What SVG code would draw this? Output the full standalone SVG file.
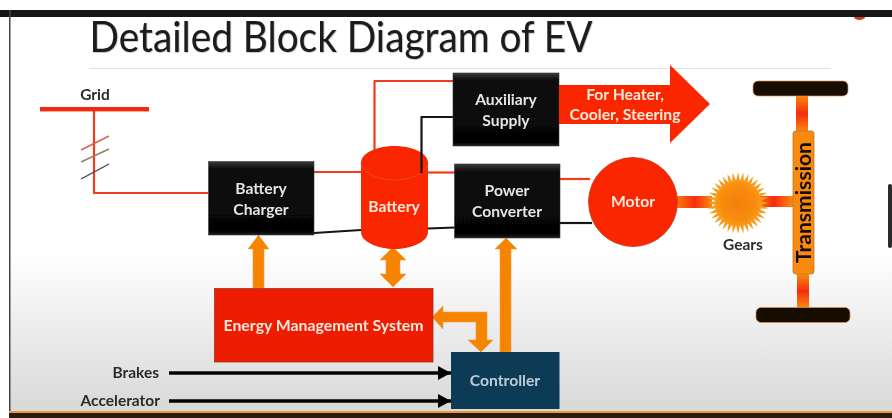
<svg xmlns="http://www.w3.org/2000/svg" xmlns:xlink="http://www.w3.org/1999/xlink" width="892" height="418" viewBox="0 0 892 418">
<style>
text{font-family:Lato,"Open Sans","Liberation Sans",sans-serif;font-weight:700;text-anchor:middle}
.lt{fill:#e6e6e6;font-size:15.700px}
.lw{fill:#ffe9dc;font-size:15.700px}
.dk{fill:#2c2c2c;font-size:15.500px}
.end{text-anchor:end}
.red{fill:none;stroke:#f23a1c;stroke-width:2.2;stroke-linejoin:round}
.blk{fill:none;stroke:#141414;stroke-width:2.2;stroke-linejoin:round}
.io{fill:none;stroke:#050505;stroke-width:3.600;marker-end:url(#ah)}
.or{fill:#f78406;stroke:#eda040;stroke-width:.6}
.box{fill:url(#bev);stroke:#3a3a3a;stroke-width:.6}
.shaft{stroke:none}
</style>
<defs>
<linearGradient id="bg" x1="0" y1="0" x2="0" y2="1"><stop offset="0" stop-color="#fff"/><stop offset=".6" stop-color="#fff"/><stop offset="1" stop-color="#d8d8d8"/></linearGradient>
<linearGradient id="bev" x1="0" y1="0" x2="0" y2="1"><stop offset="0" stop-color="#3c3c3c"/><stop offset=".1" stop-color="#0c0c0c"/><stop offset=".95" stop-color="#050505"/><stop offset="1" stop-color="#222"/></linearGradient>
<linearGradient id="sh" x1="0" y1="0" x2="1" y2="0"><stop offset="0" stop-color="#fb7a10"/><stop offset=".5" stop-color="#f52c08"/><stop offset="1" stop-color="#fb8a10"/></linearGradient>
<linearGradient id="sv" x1="0" y1="0" x2="0" y2="1"><stop offset="0" stop-color="#fb8a10"/><stop offset=".5" stop-color="#f52c08"/><stop offset="1" stop-color="#fb8a10"/></linearGradient>
<radialGradient id="gr"><stop offset="0" stop-color="#f48006"/><stop offset=".75" stop-color="#f88c0c"/><stop offset="1" stop-color="#fa9a1c"/></radialGradient>
<marker id="ah" markerUnits="userSpaceOnUse" markerWidth="14" markerHeight="14" refX="13" refY="7" orient="auto"><path d="M0 0L13 7L0 14Z" fill="#050505"/></marker>
<polygon id="sp" points="-31,0 -22,-2 22,-2 31,0 22,2 -22,2" fill="#fa9a1c"/>
<filter id="soft" x="-2%" y="-2%" width="104%" height="104%"><feGaussianBlur stdDeviation="0.45"/></filter>
<filter id="tsh" x="-2%" y="-10%" width="104%" height="120%"><feDropShadow dx="0.6" dy="0.6" stdDeviation="0.6" flood-color="#000" flood-opacity=".35"/></filter>
</defs>
<g filter="url(#soft)">
<g id="background">
<rect width="892" height="418" fill="#fff"/>
<rect x="9" y="10" width="883" height="403" fill="url(#bg)"/>
<rect x="0" y="10" width="892" height="7" fill="#161616"/>
<rect x="9" y="10" width="1.5" height="403" fill="#444"/>
<rect x="9" y="411" width="883" height="2.5" fill="#e99a38"/>
<rect x="9" y="413" width="883" height="5" fill="#2a1c0c"/>
<rect x="888" y="184" width="4" height="64" rx="2" fill="#2a2a2a"/>
<path d="M854 17h11a5.500 3 0 0 1-11 0Z" fill="#c8401c"/>
<path d="M89 68.500H831" stroke="#e2e2e2" stroke-width="1"/>
</g>
<text id="title" x="341" y="52" style="font-size:42px;font-weight:400;fill:#1a1a1a" textLength="503" lengthAdjust="spacingAndGlyphs" filter="url(#tsh)">Detailed Block Diagram of EV</text>
<g id="connectors">
<path class="red" d="M94 109V193H208"/>
<path d="M81 150L109 136" stroke="#d8604a" stroke-width="1.400"/>
<path d="M81 162L109 149" stroke="#8c8468" stroke-width="1.400"/>
<path d="M81 179L109 164" stroke="#3c4658" stroke-width="1.400"/>
<path class="red" d="M314 172H361"/>
<path class="red" d="M428 172.500H455"/>
<path class="red" d="M374.500 150V81H453"/>
<path class="red" d="M560 179H590"/>
<path class="blk" d="M314 233L361 230"/>
<path class="blk" d="M428 228.500L455 227.500"/>
<path class="blk" d="M560 223H592"/>
<path class="io" d="M169 373H451"/>
<path class="io" d="M169 401H451"/>
<path class="or" d="M253 288V249H248L258.500 235L269 249H264V288Z"/>
<path class="or" d="M393 247L406 260H400V274H406L393 287L380 274H386V260H380Z"/>
<path class="or" d="M500 352V249H495L506 238L517 249H511V352Z"/>
<path class="or" d="M432 317L443 306V312H487V340H493L481 352L468 340H476V322H443V329Z"/>
<rect class="shaft" x="677" y="196" width="35" height="12" fill="url(#sh)"/>
<rect class="shaft" x="755" y="196" width="38" height="11" fill="url(#sh)"/>
<rect class="shaft" x="796" y="95" width="12" height="37" fill="url(#sv)"/>
<rect class="shaft" x="797" y="274" width="12" height="34" fill="url(#sv)"/>
</g>
<g id="grid"><rect x="40" y="107" width="109" height="4.400" fill="#f52a08"/><text class="dk" x="95" y="100">Grid</text></g>
<g id="battery-charger"><rect class="box" x="208.500" y="161.500" width="105.500" height="73.500"/><text class="lt" x="261" y="194">Battery</text><text class="lt" x="261" y="215">Charger</text></g>
<g id="battery">
<path d="M361 163C361 152 379 146 394.500 146S428 152 428 163V232C428 242 411 249 394.500 249S361 242 361 232Z" fill="#f92800"/>
<path d="M361 163C363 174 379 180 394.500 180S426 174 428 163" fill="none" stroke="#e8481c" stroke-width="1"/>
<text class="lw" x="394" y="212">Battery</text></g>
<path class="blk" id="aux-link" d="M421.500 173V117H453"/>
<g id="auxiliary-supply"><rect class="box" x="453" y="73" width="106" height="73"/><text class="lt" x="506" y="105">Auxiliary</text><text class="lt" x="506" y="126">Supply</text></g>
<g id="power-converter"><rect class="box" x="454.500" y="164" width="105.500" height="74"/><text class="lt" x="507" y="196">Power</text><text class="lt" x="507" y="217">Converter</text></g>
<g id="load-arrow"><path d="M559 85H670V65L710 104L670 143V124H559Z" fill="#f92800"/><text class="lw" x="625" y="100">For Heater,</text><text class="lw" x="625" y="120">Cooler, Steering</text></g>
<g id="motor"><circle cx="633" cy="202" r="44.500" fill="#f92800" stroke="#c8361c" stroke-width=".8"/><text class="lw" x="633" y="207">Motor</text></g>
<g id="gears">
<use xlink:href="#sp" href="#sp" transform="translate(738 203)"/>
<use xlink:href="#sp" href="#sp" transform="translate(738 203) rotate(10)"/>
<use xlink:href="#sp" href="#sp" transform="translate(738 203) rotate(20)"/>
<use xlink:href="#sp" href="#sp" transform="translate(738 203) rotate(30)"/>
<use xlink:href="#sp" href="#sp" transform="translate(738 203) rotate(40)"/>
<use xlink:href="#sp" href="#sp" transform="translate(738 203) rotate(50)"/>
<use xlink:href="#sp" href="#sp" transform="translate(738 203) rotate(60)"/>
<use xlink:href="#sp" href="#sp" transform="translate(738 203) rotate(70)"/>
<use xlink:href="#sp" href="#sp" transform="translate(738 203) rotate(80)"/>
<use xlink:href="#sp" href="#sp" transform="translate(738 203) rotate(90)"/>
<use xlink:href="#sp" href="#sp" transform="translate(738 203) rotate(100)"/>
<use xlink:href="#sp" href="#sp" transform="translate(738 203) rotate(110)"/>
<use xlink:href="#sp" href="#sp" transform="translate(738 203) rotate(120)"/>
<use xlink:href="#sp" href="#sp" transform="translate(738 203) rotate(130)"/>
<use xlink:href="#sp" href="#sp" transform="translate(738 203) rotate(140)"/>
<use xlink:href="#sp" href="#sp" transform="translate(738 203) rotate(150)"/>
<use xlink:href="#sp" href="#sp" transform="translate(738 203) rotate(160)"/>
<use xlink:href="#sp" href="#sp" transform="translate(738 203) rotate(170)"/>
<circle cx="738" cy="203" r="23" fill="url(#gr)"/>
<text class="dk" x="743" y="250">Gears</text></g>
<g id="transmission"><rect x="793" y="131" width="21" height="143" rx="2.500" fill="#f98a10" stroke="#b87a30" stroke-width=".8"/><text transform="translate(811 202.500) rotate(-90)" style="font-size:21px;fill:#181008" textLength="121" lengthAdjust="spacingAndGlyphs">Transmission</text></g>
<g id="wheel-top"><rect x="753" y="81" width="95" height="15" rx="5" fill="#120804" stroke="#e89040" stroke-width=".7"/></g>
<g id="wheel-bottom"><rect x="756" y="307.500" width="94" height="15" rx="5" fill="#120804" stroke="#e89040" stroke-width=".7"/></g>
<g id="energy-management-system"><rect x="214.500" y="288.500" width="218.500" height="73.500" fill="#ee1c00" stroke="#a0341c" stroke-width=".8"/><text class="lw" x="323.500" y="331" textLength="200" lengthAdjust="spacingAndGlyphs">Energy Management System</text></g>
<g id="controller"><rect x="451" y="352" width="108.500" height="57" fill="#0f3a54"/><text class="lt" x="505" y="386" style="fill:#b9cdd6">Controller</text></g>
<g id="inputs"><text class="dk end" x="159" y="378">Brakes</text><text class="dk end" x="160" y="406">Accelerator</text></g>
</g>
</svg>
